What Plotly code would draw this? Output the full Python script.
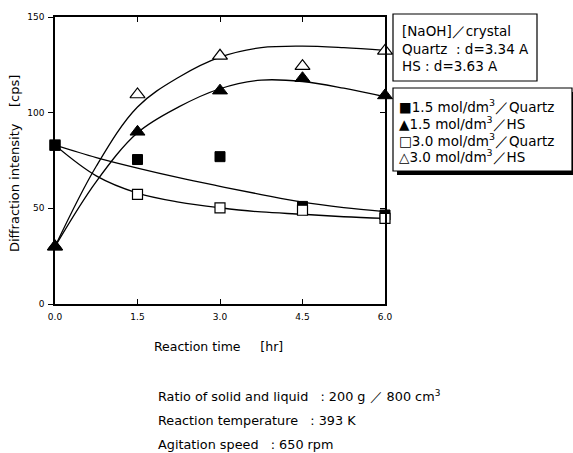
import plotly.graph_objects as go

# ---- data ----
time_hr = [0.0, 1.5, 3.0, 4.5, 6.0]
quartz_15 = [83, 75.5, 77, 51, 46.5]      # filled squares
hs_15 = [30, 90, 111.5, 118, 109]         # filled triangles
quartz_30 = [83, 57.3, 50.2, 49, 44.8]    # open squares
hs_30 = [30, 109.5, 129.7, 124.3, 132.3]  # open triangles

fit_t = [0, 0.75, 1.5, 2.25, 3.0, 3.75, 4.5, 5.25, 6.0]
fit_quartz_15 = [83, 76.5, 71, 66, 61.5, 57.2, 53.2, 50.4, 48.3]
fit_hs_15 = [30, 64, 89.5, 103, 112.5, 117, 116.3, 112.8, 108.3]
fit_quartz_30 = [83, 67, 58, 53.3, 50.3, 48.1, 46.9, 45.6, 44.7]
fit_hs_30 = [30, 72, 103, 118.5, 129, 134, 134.8, 134, 132.6]

x_ticks = [0.0, 1.5, 3.0, 4.5, 6.0]
x_tick_labels = ["0.0", "1.5", "3.0", "4.5", "6.0"]
y_ticks = [0, 50, 100, 150]

legend_labels = [
    "■1.5 mol/dm<sup>3</sup>／Quartz",
    "▲1.5 mol/dm<sup>3</sup>／HS",
    "□3.0 mol/dm<sup>3</sup>／Quartz",
    "△3.0 mol/dm<sup>3</sup>／HS",
]
info_labels = ["[NaOH]／crystal", "Quartz  : d=3.34 A", "HS : d=3.63 A"]
cond_labels = [
    "Ratio of solid and liquid   : 200 g ／ 800 cm<sup>3</sup>",
    "Reaction temperature   : 393 K",
    "Agitation speed   : 650 rpm",
]

FONT = "DejaVu Sans, Arial, sans-serif"
W, H = 573, 453
L, R, T, B = 55, 385, 17, 304


def px(x):
    return (x - L) / (R - L)


def py(y):
    return (B - y) / (B - T)


fig = go.Figure()

line_style = dict(color="black", width=1.3, shape="spline", smoothing=1.0)
for fy in [fit_quartz_15, fit_hs_15, fit_quartz_30, fit_hs_30]:
    fig.add_trace(go.Scatter(x=fit_t, y=fy, mode="lines", line=line_style,
                             showlegend=False, hoverinfo="skip"))

fig.add_trace(go.Scatter(x=time_hr, y=quartz_15, mode="markers", cliponaxis=False,
                         marker=dict(symbol="square", size=10, color="black",
                                     line=dict(color="black", width=1)),
                         showlegend=False))
fig.add_trace(go.Scatter(x=time_hr, y=quartz_30, mode="markers", cliponaxis=False,
                         marker=dict(symbol="square", size=10,
                                     color=["black", "white", "white", "white", "white"],
                                     line=dict(color="black", width=1.2)),
                         showlegend=False))
fig.add_trace(go.Scatter(x=time_hr, y=hs_30, mode="markers", cliponaxis=False,
                         marker=dict(symbol="triangle-up", size=13,
                                     color=["black", "white", "white", "white", "white"],
                                     line=dict(color="black", width=1.2)),
                         showlegend=False))
fig.add_trace(go.Scatter(x=time_hr, y=hs_15, mode="markers", cliponaxis=False,
                         marker=dict(symbol="triangle-up", size=13, color="black",
                                     line=dict(color="black", width=1)),
                         showlegend=False))

shapes = [
    # info box
    dict(type="rect", xref="paper", yref="paper", x0=px(393), x1=px(537),
         y0=py(81), y1=py(14), line=dict(color="black", width=1.2), fillcolor="white"),
    # legend shadow
    dict(type="rect", xref="paper", yref="paper", x0=px(397), x1=px(577),
         y0=py(175), y1=py(92), line=dict(width=0), fillcolor="black"),
    # legend box
    dict(type="rect", xref="paper", yref="paper", x0=px(393), x1=px(572),
         y0=py(171), y1=py(88), line=dict(color="black", width=1.2), fillcolor="white"),
]

annotations = []
for i, t in enumerate(info_labels):
    annotations.append(dict(text=t, xref="paper", yref="paper", x=px(400),
                            y=py(31 + i * 17.5), xanchor="left", yanchor="middle",
                            showarrow=False, font=dict(family=FONT, size=13.5, color="black")))
for i, t in enumerate(legend_labels):
    annotations.append(dict(text=t, xref="paper", yref="paper", x=px(397),
                            y=py(106 + i * 16.8), xanchor="left", yanchor="middle",
                            showarrow=False, font=dict(family=FONT, size=13.5, color="black")))
for i, t in enumerate(cond_labels):
    annotations.append(dict(text=t, xref="paper", yref="paper", x=px(156),
                            y=py(396 + i * 24), xanchor="left", yanchor="middle",
                            showarrow=False, font=dict(family=FONT, size=12.8, color="black")))
annotations.append(dict(text="Reaction time     [hr]", xref="paper", yref="paper",
                        x=px(152), y=py(347), xanchor="left", yanchor="middle",
                        showarrow=False, font=dict(family=FONT, size=12.5, color="black")))
annotations.append(dict(text="Diffraction intensity    [cps]", xref="paper", yref="paper",
                        x=px(14), y=py(164), xanchor="center", yanchor="middle", textangle=-90,
                        showarrow=False, font=dict(family=FONT, size=13, color="black")))

fig.update_layout(
    width=W, height=H,
    margin=dict(l=L, r=W - R, t=T, b=H - B, pad=0),
    paper_bgcolor="white", plot_bgcolor="white",
    font=dict(family=FONT, color="black"),
    showlegend=False,
    shapes=shapes,
    annotations=annotations,
    xaxis=dict(range=[0, 6], tickvals=x_ticks, ticktext=x_tick_labels,
               ticks="inside", ticklen=5, tickwidth=1.2, tickcolor="black",
               showline=True, linecolor="black", linewidth=1.5, mirror="ticks",
               showgrid=False, zeroline=False, ticklabelstandoff=3,
               tickfont=dict(size=9, family=FONT)),
    yaxis=dict(range=[0, 150], tickvals=y_ticks,
               ticks="outside", ticklen=5, tickwidth=1.2, tickcolor="black",
               showline=True, linecolor="black", linewidth=1.5, mirror=True,
               showgrid=False, zeroline=False, ticklabelstandoff=2,
               tickfont=dict(size=9, family=FONT)),
    yaxis2=dict(range=[0, 150], tickvals=y_ticks, overlaying="y", side="right",
                ticks="inside", ticklen=5, tickwidth=1.2, tickcolor="black",
                showticklabels=False, showgrid=False, zeroline=False, showline=False),
)
fig.add_trace(go.Scatter(x=[None], y=[None], yaxis="y2", showlegend=False, hoverinfo="skip"))

fig.write_html("out.html")
